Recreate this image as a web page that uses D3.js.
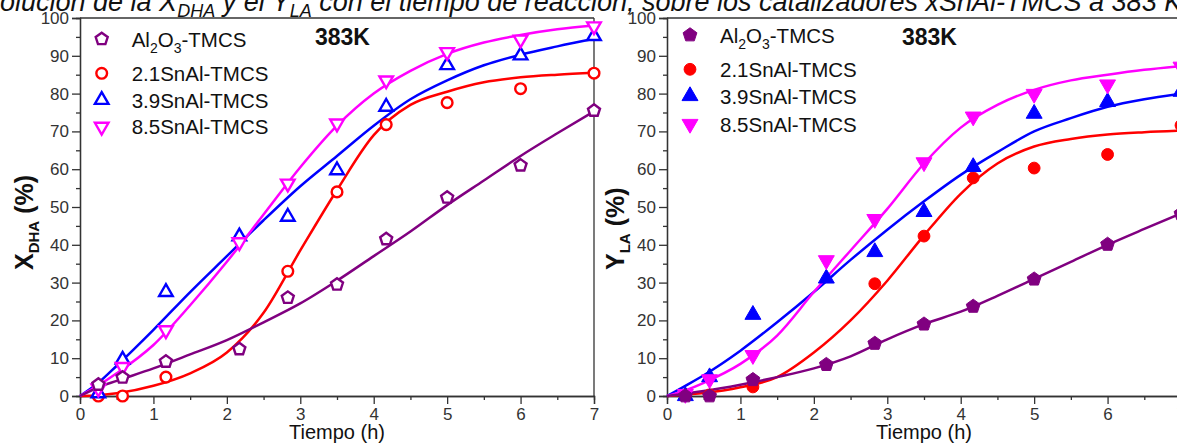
<!DOCTYPE html>
<html lang="es">
<head>
<meta charset="UTF-8">
<title>X_DHA y Y_LA frente al tiempo</title>
<style>
    body { margin: 0; background: #fff; }
    svg text { font-family: "Liberation Sans", Arial, sans-serif; }
    .axis path, .axis line { stroke: #333; stroke-width: 1.3px; }
    .axis text { fill: #333; font-size: 17px; }
</style>
</head>
<body>
<script src="https://d3js.org/d3.v7.min.js"></script>
<script>
    /* datos */
    var tiempos = [0.25, 0.58, 1.17, 2.17, 2.83, 3.5, 4.17, 5, 6, 7];
    var tiemposAjuste = [0, 0.25, 0.5, 1, 1.5, 2, 2.5, 3, 3.5, 4, 4.5, 5, 5.5, 6, 6.5, 7];
    var catalizadores = ["Al2O3-TMCS", "2.1SnAl-TMCS", "3.9SnAl-TMCS", "8.5SnAl-TMCS"];
    var xTicks = [0, 1, 2, 3, 4, 5, 6, 7];
    var xMinor = [0.5, 1.5, 2.5, 3.5, 4.5, 5.5, 6.5];
    var yTicks = [0, 10, 20, 30, 40, 50, 60, 70, 80, 90, 100];
    var yMinor = [5, 15, 25, 35, 45, 55, 65, 75, 85, 95];

    // conversion X_DHA (%)
    var xdhaAl = [3.0, 4.9, 9.1, 12.4, 26.0, 29.5, 41.5, 52.5, 61.0, 75.5];
    var xdha21 = [0, 0, 5.0, null, 33.0, 54.0, 71.8, 77.6, 81.3, 85.4];
    var xdha39 = [0.7, 9.6, 27.5, 42.2, 47.4, 59.7, 76.5, 87.5, 90.1, 95.2];
    var xdha85 = [2.0, 7.7, 17.4, 40.7, 56.2, 72.1, 83.5, 91.0, 94.3, 97.8];
    var xdhaAjusteAl = [0, 2.3, 4.0, 7.3, 11, 14.8, 19.5, 24.5, 30.5, 37, 43.5, 50.5, 57, 63.5, 69.5, 75.3];
    var xdhaAjuste21 = [0, 0.2, 0.7, 2.7, 6, 11.5, 22, 38.5, 54.5, 69, 77, 80.5, 83, 84.3, 85, 85.5];
    var xdhaAjuste39 = [0, 3.5, 8, 17.5, 27.5, 37, 46.5, 55.5, 63.5, 71.5, 78.5, 83.5, 87.5, 90.3, 92.5, 94.5];
    var xdhaAjuste85 = [0, 2.8, 6, 13.5, 24, 35.5, 48, 60.5, 71.5, 80, 86, 90.5, 93.5, 95.5, 97, 98];

    // rendimiento Y_LA (%)
    var ylaAl = [0, 0, 4.3, 8.3, 13.9, 19.0, 23.7, 30.9, 40.1, 48.2];
    var yla21 = [0.3, 0.3, 2.4, null, 29.7, 42.3, 57.7, 60.3, 63.9, 71.6];
    var yla39 = [0, 5.0, 21.5, 31.1, 38.1, 48.7, 60.6, 74.7, 77.8, 80.5];
    var yla85 = [0.5, 4.4, 10.8, 35.9, 46.8, 61.8, 73.9, 79.9, 82.4, 87.1];
    var ylaAjusteAl = [0, 0.6, 1.3, 3, 5, 7.3, 10.5, 15, 19, 22.3, 26.5, 31, 35.5, 40, 44.2, 48.3];
    var ylaAjuste21 = [0, 0.4, 0.8, 2.3, 5, 11.5, 20, 30.5, 42.5, 53.5, 61.5, 66, 68, 69.2, 69.8, 70.2];
    var ylaAjuste39 = [0, 2.7, 5.5, 12, 19.5, 27.5, 36, 44, 51.5, 58.5, 64.5, 70, 73.5, 76.5, 78.5, 80];
    var ylaAjuste85 = [0, 1.5, 3.5, 8.5, 16, 27.5, 38.5, 49.5, 61.5, 71, 77, 81, 83.5, 85, 86.3, 87.3];

    var colores = ["#800080", "#ff0000", "#0000ff", "#ff00ff"];
    var width = 1177, height = 443;

    var svg = d3.select("body").append("svg")
        .attr("width", width)
        .attr("height", height);

    /*simbolo pentagono*/
    var symbolPentagon = {
        draw: function (ctx, size) {
            var r = Math.sqrt(size / 2.378);
            for (var k = 0; k < 5; k++) {
                var a = -Math.PI / 2 + k * 2 * Math.PI / 5;
                if (k == 0) ctx.moveTo(r * Math.cos(a), r * Math.sin(a));
                else ctx.lineTo(r * Math.cos(a), r * Math.sin(a));
            }
            ctx.closePath();
        }
    };
    var simbolos = [symbolPentagon, d3.symbolCircle, d3.symbolTriangle, d3.symbolTriangle];
    var giros = [0, 0, 0, 180];

    /*titulo cortado arriba*/
    var cap = svg.append("text")
        .attr("x", -31.5)
        .attr("y", 11)
        .attr("font-size", "27px")
        .attr("font-style", "italic")
        .attr("fill", "#111");
    cap.append("tspan").text("Evolución de la X");
    cap.append("tspan").attr("dy", 6).attr("font-size", "18px").text("DHA");
    cap.append("tspan").attr("dy", -6).text(" y el Y");
    cap.append("tspan").attr("dy", 6).attr("font-size", "18px").text("LA");
    cap.append("tspan").attr("dy", -6).text(" con el tiempo de reacción, sobre los catalizadores xSnAl-TMCS a 383 K.");

    function marker(g, i, cx, cy, lleno) {
        var area = lleno ? [125, 110, 110, 110][i] : [95, 90, 80, 80][i];
        g.append("path")
            .attr("d", d3.symbol().type(simbolos[i]).size(area)())
            .attr("transform", "translate(" + cx + "," + cy + ") rotate(" + giros[i] + ")")
            .attr("fill", lleno ? colores[i] : "#fff")
            .attr("stroke", colores[i])
            .attr("stroke-width", lleno ? 1 : 2.4);
    }

    function drawPanel(p) {
        var x = d3.scaleLinear().domain([0, 7]).range([p.left, p.left + 514]);
        var y = d3.scaleLinear().domain([0, 100]).range([396, 18]);
        var g = svg.append("g");

        /*marco*/
        g.append("line")
            .attr("x1", x(0)).attr("x2", x(7))
            .attr("y1", y(100)).attr("y2", y(100))
            .attr("stroke", "#333").attr("stroke-width", 1.3);
        g.append("line")
            .attr("x1", x(7)).attr("x2", x(7))
            .attr("y1", y(100)).attr("y2", y(0))
            .attr("stroke", "#333").attr("stroke-width", 1.3);

        /*ejes*/
        g.append("g").attr("class", "axis")
            .attr("transform", "translate(0," + y(0) + ")")
            .call(d3.axisBottom(x).tickValues(xMinor).tickSize(4).tickFormat(""));
        g.append("g").attr("class", "axis")
            .attr("transform", "translate(0," + y(0) + ")")
            .call(d3.axisBottom(x).tickValues(xTicks).tickSize(8).tickPadding(4).tickFormat(d3.format("d")));
        g.append("g").attr("class", "axis")
            .attr("transform", "translate(" + x(0) + ",0)")
            .call(d3.axisLeft(y).tickValues(yMinor).tickSize(4).tickFormat(""));
        g.append("g").attr("class", "axis")
            .attr("transform", "translate(" + x(0) + ",0)")
            .call(d3.axisLeft(y).tickValues(yTicks).tickSize(8).tickPadding(3).tickFormat(d3.format("d")));

        /*titulos de ejes*/
        g.append("text")
            .attr("x", (x(0) + x(7)) / 2)
            .attr("y", 439)
            .attr("text-anchor", "middle")
            .attr("font-size", "20px")
            .attr("fill", "#111")
            .text("Tiempo (h)");

        var yt = g.append("text")
            .attr("transform", "translate(" + p.titleX + "," + p.titleY + ") rotate(-90)")
            .attr("font-size", "25px")
            .attr("font-weight", "bold")
            .attr("fill", "#111");
        yt.append("tspan").text(p.letra);
        yt.append("tspan").attr("dy", 6).attr("font-size", "15px").text(p.sub);
        yt.append("tspan").attr("dy", -6).text(" (%)");

        g.append("text")
            .attr("x", p.left + 235)
            .attr("y", 45)
            .attr("font-size", "23px")
            .attr("font-weight", "bold")
            .attr("fill", "#111")
            .text("383K");

        /*curvas de ajuste*/
        var line = d3.line()
            .x(function (d, i) { return x(tiemposAjuste[i]); })
            .y(function (d) { return y(d); })
            .curve(d3.curveMonotoneX);
        [1, 2, 3, 0].forEach(function (i) {
            g.append("path")
                .datum(p.ajustes[i])
                .attr("d", line)
                .attr("fill", "none")
                .attr("stroke", colores[i])
                .attr("stroke-width", 2.5);
        });

        /*puntos*/
        [1, 2, 3, 0].forEach(function (i) {
            p.datos[i].forEach(function (v, j) {
                if (v === null) return;
                marker(g, i, x(tiempos[j]), y(v), p.lleno);
            });
        });

        /*leyenda*/
        catalizadores.forEach(function (c, i) {
            var cy = p.legY[i];
            marker(g, i, p.left + p.legDx, cy, p.lleno);
            var t = g.append("text")
                .attr("x", p.left + p.legDx + 30)
                .attr("y", cy + 7.5)
                .attr("font-size", "20.5px")
                .attr("fill", "#111");
            if (i == 0) {
                t.append("tspan").text("Al");
                t.append("tspan").attr("dy", 6).attr("font-size", "14px").text("2");
                t.append("tspan").attr("dy", -6).text("O");
                t.append("tspan").attr("dy", 6).attr("font-size", "14px").text("3");
                t.append("tspan").attr("dy", -6).text("-TMCS");
            } else {
                t.text(c);
            }
        });
    }

    drawPanel({
        left: 80, lleno: false, letra: "X", sub: "DHA", titleX: 33, titleY: 270,
        legDx: 21.7, legY: [39, 73.3, 100, 126.7],
        datos: [xdhaAl, xdha21, xdha39, xdha85],
        ajustes: [xdhaAjusteAl, xdhaAjuste21, xdhaAjuste39, xdhaAjuste85]
    });
    drawPanel({
        left: 667, lleno: true, letra: "Y", sub: "LA", titleX: 624, titleY: 270,
        legDx: 23, legY: [35, 69.3, 96, 124],
        datos: [ylaAl, yla21, yla39, yla85],
        ajustes: [ylaAjusteAl, ylaAjuste21, ylaAjuste39, ylaAjuste85]
    });
</script>
</body>
</html>
